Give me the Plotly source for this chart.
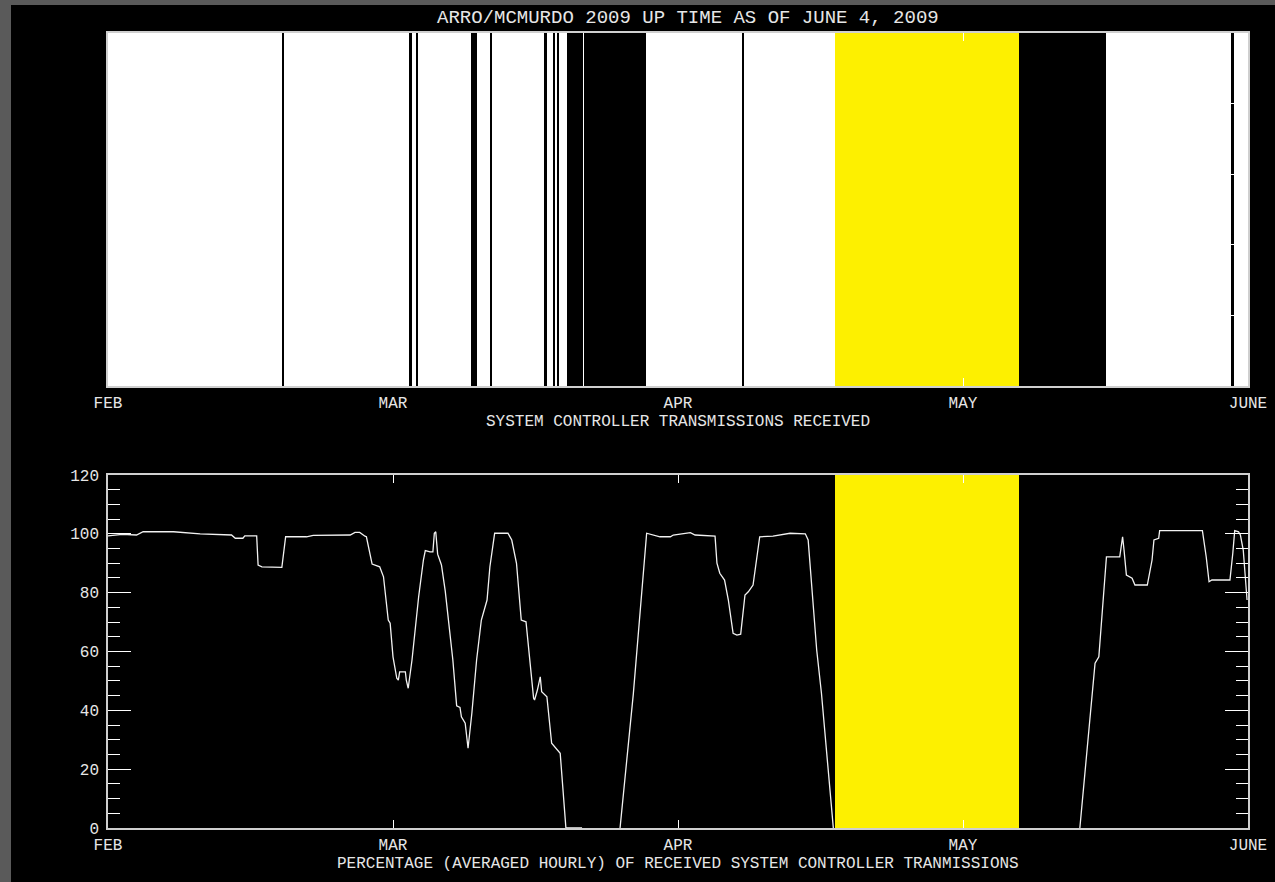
import plotly.graph_objects as go

# ---------------- data ----------------
# x axis: days since Feb 1 (months drawn equally spaced, 30 "days" each)
month_ticks = [0, 30, 60, 90, 120]
month_labels = ["FEB", "MAR", "APR", "MAY", "JUNE"]

# periods with no system controller transmissions (top panel, black)
outage_start = [18.32, 31.74, 32.43, 38.16, 40.16, 45.95, 46.81, 47.22, 48.32, 50.12, 66.77, 95.93, 118.21]
outage_end = [18.46, 31.95, 32.63, 38.79, 40.47, 46.16, 47.05, 47.43, 49.95, 56.63, 66.91, 105.05, 118.53]

# highlighted (yellow) period
yellow_start = [76.53]
yellow_end = [95.93]

# hourly-averaged percentage of received transmissions (bottom panel)
pct_day = [0.0, 1.5, 3.0, 3.7, 6.9, 9.7, 13.0, 13.4, 14.2, 14.4, 15.65, 15.8, 16.2, 18.3, 18.7,
           20.9, 21.6, 25.5, 26.0, 26.5, 27.05, 27.2, 27.8, 28.6, 29.0, 29.5, 29.7, 30.0, 30.4,
           30.56, 30.7, 31.3, 31.4, 31.6, 32.0, 32.7, 33.2, 33.4, 33.9, 34.2, 34.35, 34.5, 34.7,
           35.1, 35.5, 36.3, 36.7, 37.05, 37.2, 37.6, 37.9, 38.3, 38.8, 39.3, 39.9, 40.2, 40.7,
           42.1, 42.5, 43.0, 43.5, 44.0, 44.8, 44.9, 45.2, 45.5, 45.65, 46.2, 46.7, 47.05, 47.6,
           48.2, 49.9, 51.9, 53.9, 55.3, 56.7, 58.1, 59.2, 59.5, 61.3, 61.8, 63.9, 64.1, 64.4,
           64.9, 65.3, 65.8, 66.2, 66.6, 67.05, 67.4, 67.9, 68.6, 70.0, 70.6, 71.8, 73.4, 73.7,
           74.6, 75.1, 76.35, 89.0, 102.3, 102.7, 103.9, 104.3, 104.8, 105.1, 106.5, 106.8,
           106.95, 107.2, 107.8, 108.1, 109.4, 109.9, 110.1, 110.6, 110.7, 115.2, 115.6, 115.9,
           116.2, 118.1, 118.4, 118.6, 119.0, 119.2, 119.5, 119.7, 119.9]
pct_val = [99.3, 99.8, 99.6, 100.7, 100.7, 100.0, 99.6, 98.5, 98.5, 99.3, 99.3, 89.4, 88.8, 88.6, 99.0,
           99.0, 99.5, 99.6, 100.5, 100.5, 99.2, 99.0, 89.7, 88.8, 85.4, 70.7, 69.6, 58.2, 50.9,
           50.3, 53.1, 53.1, 50.3, 47.5, 57.1, 78.6, 91.1, 94.3, 93.9, 93.9, 100.2, 100.7, 93.1,
           89.4, 80.5, 57.1, 41.5, 41.0, 37.8, 35.6, 27.1, 39.0, 57.1, 70.7, 77.5, 88.8, 100.2,
           100.2, 97.9, 90.0, 70.7, 70.1, 44.1, 43.5, 46.9, 51.4, 46.3, 44.6, 28.8, 27.6, 25.4,
           0.0, 0.0, None, 0.0, 45.7, 100.2, 99.0, 99.0, 99.6, 100.4, 99.6, 99.2, 90.0, 86.6,
           84.3, 77.5, 66.2, 65.6, 65.9, 79.2, 80.3, 82.6, 99.0, 99.2, 99.6, 100.2, 100.0, 97.9,
           60.5, 45.8, 0.0, None, 0.0, 14.0, 56.0, 58.2, 78.6, 92.2, 92.2, 99.0,
           94.5, 86.0, 84.9, 82.6, 82.6, 91.1, 97.9, 98.5, 101.1, 101.1, 92.2, 83.7,
           84.3, 84.3, 93.4, 101.1, 100.7, 99.6, 94.5, 86.6, 77.5]

title_text = "ARRO/MCMURDO 2009 UP TIME AS OF JUNE 4, 2009"
top_xlabel = "SYSTEM CONTROLLER TRANSMISSIONS RECEIVED"
bottom_xlabel = "PERCENTAGE (AVERAGED HOURLY) OF RECEIVED SYSTEM CONTROLLER TRANMISSIONS"

# ---------------- styling ----------------
FONT = "Liberation Mono, DejaVu Sans Mono, monospace"
TXT = "#e6e6e6"
FRAME = "#cfcfcf"
YELLOW = "#fdf000"

fig = go.Figure()

# top panel: yellow period and outages
fig.add_trace(go.Bar(
    x=[(s + e) / 2 for s, e in zip(yellow_start, yellow_end)],
    y=[1] * len(yellow_start), base=0,
    width=[e - s for s, e in zip(yellow_start, yellow_end)],
    marker=dict(color=YELLOW, line=dict(width=0)),
    xaxis="x", yaxis="y", showlegend=False, hoverinfo="skip"))
fig.add_trace(go.Bar(
    x=[(s + e) / 2 for s, e in zip(outage_start, outage_end)],
    y=[1] * len(outage_start), base=0,
    width=[e - s for s, e in zip(outage_start, outage_end)],
    marker=dict(color="black", line=dict(width=0)),
    xaxis="x", yaxis="y", showlegend=False, hoverinfo="skip"))

# bottom panel: yellow period and percentage line
fig.add_trace(go.Bar(
    x=[(s + e) / 2 for s, e in zip(yellow_start, yellow_end)],
    y=[120] * len(yellow_start), base=0,
    width=[e - s for s, e in zip(yellow_start, yellow_end)],
    marker=dict(color=YELLOW, line=dict(width=0)),
    xaxis="x2", yaxis="y2", showlegend=False, hoverinfo="skip"))
fig.add_trace(go.Scatter(
    x=pct_day, y=pct_val, mode="lines",
    line=dict(color="#f2f2f2", width=1.3),
    connectgaps=False, xaxis="x2", yaxis="y2", showlegend=False))

L, R, T, B = 108, 27, 33, 54
W, H = 1275, 882
pw, ph = W - L - R, H - T - B


def px_to_paper(px, py):
    return (px - L) / pw, (H - B - py) / ph


top_dom = [(H - B - 386) / ph, 1.0]
bot_dom = [0.0, (H - B - 475) / ph]

xcommon = dict(range=[0, 120], tickmode="array", tickvals=month_ticks, ticktext=month_labels,
               ticks="inside", ticklen=8, tickwidth=1, tickcolor="#ffffff",
               showline=True, linecolor=FRAME, linewidth=1.5, mirror="ticks",
               showgrid=False, zeroline=False, automargin=False,
               tickfont=dict(family=FONT, size=16, color=TXT), ticklabelstandoff=1)

# background shapes (black frame area, white top panel)
bx0, by0 = px_to_paper(11, H)
bx1, by1 = px_to_paper(W, 5)
shapes = [
    dict(type="rect", xref="paper", yref="paper", x0=bx0, x1=bx1, y0=by0, y1=by1,
         fillcolor="black", line=dict(width=0), layer="below"),
    dict(type="rect", xref="x domain", yref="y domain", x0=0, x1=1, y0=0, y1=1,
         fillcolor="white", line=dict(width=0), layer="below"),
]

tx, ty = px_to_paper(688, 18)
ax1x, ax1y = px_to_paper(678, 422)
ax2x, ax2y = px_to_paper(678, 864)
annotations = [
    dict(text=title_text, x=tx, y=ty, xref="paper", yref="paper", showarrow=False,
         xanchor="center", yanchor="middle", font=dict(family=FONT, size=19, color=TXT)),
    dict(text=top_xlabel, x=ax1x, y=ax1y, xref="paper", yref="paper", showarrow=False,
         xanchor="center", yanchor="middle", font=dict(family=FONT, size=16, color=TXT)),
    dict(text=bottom_xlabel, x=ax2x, y=ax2y, xref="paper", yref="paper", showarrow=False,
         xanchor="center", yanchor="middle", font=dict(family=FONT, size=16, color=TXT)),
]

fig.update_layout(
    width=W, height=H, autosize=False,
    margin=dict(l=L, r=R, t=T, b=B, pad=0),
    paper_bgcolor="#5a5a5a", plot_bgcolor="black",
    barmode="overlay", bargap=0,
    xaxis=dict(domain=[0, 1], anchor="y", **xcommon),
    yaxis=dict(domain=top_dom, anchor="x", range=[0, 1], tickmode="linear", tick0=0, dtick=0.2,
               ticks="inside", ticklen=23, tickcolor="#ffffff", showticklabels=False,
               showline=True, linecolor=FRAME, linewidth=1.5, mirror="ticks",
               showgrid=False, zeroline=False, automargin=False),
    xaxis2=dict(domain=[0, 1], anchor="y2", **xcommon),
    yaxis2=dict(domain=bot_dom, anchor="x2", range=[0, 120], tickmode="linear", tick0=0, dtick=20,
                ticks="inside", ticklen=23, tickwidth=1, tickcolor="#ffffff",
                minor=dict(dtick=5, ticks="inside", ticklen=12, tickcolor="#ffffff", tickwidth=1),
                showline=True, linecolor=FRAME, linewidth=1.5, mirror="ticks",
                showgrid=False, zeroline=False, automargin=False,
                tickfont=dict(family=FONT, size=16, color=TXT), ticklabelstandoff=4),
    shapes=shapes, annotations=annotations, hovermode=False,
)

fig.write_html("out.html")
